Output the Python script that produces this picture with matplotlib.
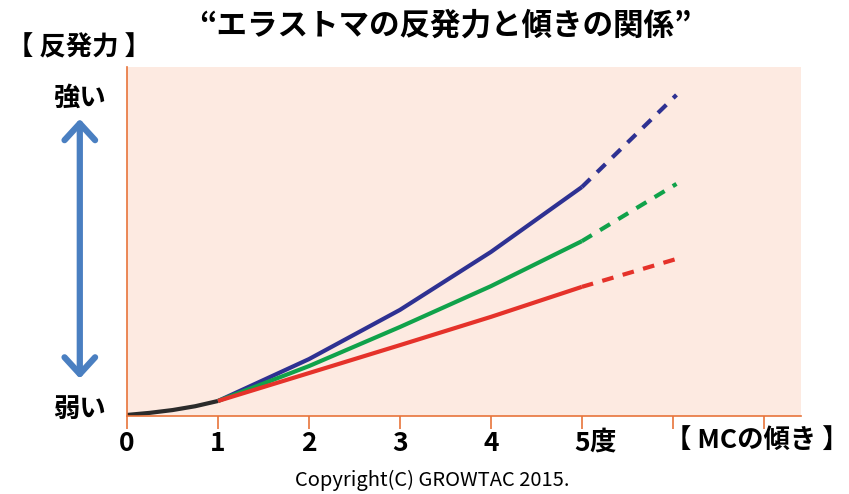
import matplotlib
matplotlib.use('Agg')

import matplotlib.pyplot as plt

plt.rcParams['font.family'] = ['Noto Sans CJK JP', 'DejaVu Sans']

# reading off the picture (y: 0 = bottom, 10 = top of the panel)
base_x = [0, 0.25, 0.5, 0.75, 1]
base_y = [0.03, 0.09, 0.17, 0.28, 0.43]

solid_x = [1, 2, 3, 4, 5]
blue_y = [0.43, 1.63, 3.04, 4.70, 6.56]
green_y = [0.43, 1.43, 2.55, 3.72, 5.01]
red_y = [0.43, 1.23, 2.03, 2.84, 3.70]

dash_x = [5, 6.04]
blue_dash = [6.56, 9.20]
green_dash = [5.01, 6.65]
red_dash = [3.70, 4.50]

tick_pos = [0, 1, 2, 3, 4, 5, 6, 7]
tick_labels = ['0', '1', '2', '3', '4', '5', '', '']

title = '“エラストマの反発力と傾きの関係”'
ylabel = '【 反発力 】'
xlabel = '【 MCの傾き 】'

orange = '#e8743b'
bg = '#fdeae1'

fig = plt.figure(figsize=(8.49, 4.94), dpi=100)
ax = fig.add_axes([0.1496, 0.1579, 0.794, 0.7065])
ax.set_facecolor(bg)

ax.plot(base_x, base_y, color='#2b2b2b', lw=3, solid_capstyle='butt')
ax.plot(solid_x, blue_y, color='#2e3192', lw=3, solid_capstyle='butt')
ax.plot(solid_x, green_y, color='#10a24a', lw=3, solid_capstyle='butt')
ax.plot(solid_x, red_y, color='#e5322a', lw=3, solid_capstyle='butt')

ax.plot(dash_x, blue_dash, color='#2e3192', lw=3, dashes=(2.8, 2.3), dash_capstyle='butt')
ax.plot(dash_x, green_dash, color='#10a24a', lw=3, dashes=(2.8, 2.3), dash_capstyle='butt')
ax.plot(dash_x, red_dash, color='#e5322a', lw=3, dashes=(2.8, 2.3), dash_capstyle='butt')

ax.set_xlim(0, 7.41)
ax.set_ylim(0, 10)
for s in ['top', 'right']:
    ax.spines[s].set_visible(False)
for s in ['left', 'bottom']:
    ax.spines[s].set_color(orange)
    ax.spines[s].set_linewidth(1.2)
ax.set_yticks([])
ax.set_xticks(tick_pos)
ax.set_xticklabels(tick_labels, fontsize=19, fontweight='bold')
ax.tick_params(axis='x', direction='out', length=9, width=1.2, color=orange, pad=1)
# unit after the 5
ax.text(5.08, -0.75, '度', ha='left', va='center', fontsize=19, fontweight='bold',
        transform=ax.transData, clip_on=False)

fig.text(0.524, 0.948, title, ha='center', va='center', fontsize=22, fontweight='bold')
fig.text(0.008, 0.903, ylabel, ha='left', va='center', fontsize=19, fontweight='bold')
fig.text(0.094, 0.80, '強い', ha='center', va='center', fontsize=19, fontweight='bold')
fig.text(0.094, 0.172, '弱い', ha='center', va='center', fontsize=19, fontweight='bold')
fig.text(0.999, 0.108, xlabel, ha='right', va='center', fontsize=19, fontweight='bold')
fig.text(0.509, 0.028, 'Copyright(C) GROWTAC 2015.', ha='center', va='center', fontsize=14.5)

fig.patches.append(matplotlib.patches.FancyArrowPatch(
    (0.094, 0.765), (0.094, 0.228), transform=fig.transFigure,
    arrowstyle='<->,head_length=0.6,head_width=0.55', color='#4a7fc1', lw=4.5,
    mutation_scale=20))

fig.savefig('out.png', dpi=100)
